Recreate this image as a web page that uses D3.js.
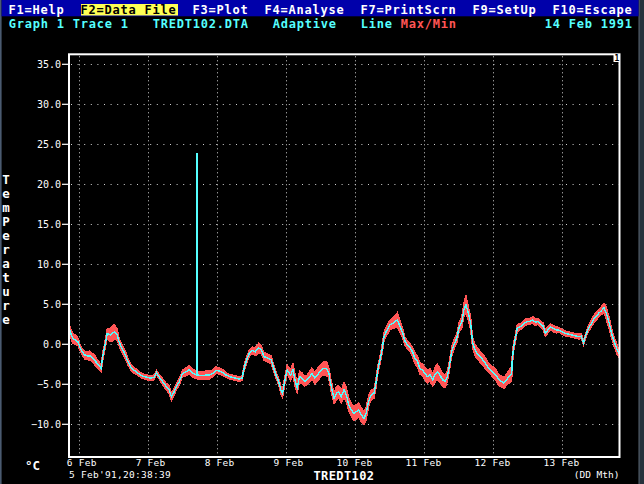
<!DOCTYPE html>
<html><head><meta charset="utf-8">
<script src="https://cdn.jsdelivr.net/npm/d3@7"></script>
<style>
html,body{margin:0;padding:0;background:#000;}
svg{display:block;}
text{font-family:"DejaVu Sans Mono",monospace;}
</style></head>
<body>
<svg id="c" width="644" height="484"></svg>
<script>
// ---- data ----
const startLabel = "5 Feb'91,20:38:39";
// hours since 5 Feb 1991 20:38:39
const hours = [0,0.2,0.6,1.4,2.3,3.1,3.8,4.6,5.5,6.4,7.3,8.1,8.9,9.8,10.8,11.2,11.7,12.2,12.9,13.3,14.3,15.1,15.9,16.8,17.4,18.2,19.1,19.8,20.5,21.5,22.6,23.8,24.9,26.1,27.2,28.4,29.6,30.4,31.3,32.5,33.6,34.8,35.6,36.3,37.2,38.4,39.5,40.7,41.8,43.0,44.55,44.6,44.65,46.5,47.7,48.8,50.0,51.1,52.3,53.5,54.6,55.8,56.9,58.1,59.2,60.2,61.0,61.8,62.7,63.7,64.8,66.0,66.9,67.9,69.1,70.3,71.1,72.0,72.9,73.7,74.3,75.0,75.9,77.1,77.9,78.7,79.4,80.2,81.0,82.0,82.9,83.7,84.5,85.5,86.4,87.2,88.3,89.5,90.3,91.2,92.2,93.0,93.8,94.7,95.7,96.5,97.3,98.2,99.1,99.9,100.8,101.7,102.6,103.4,104.2,105.1,106.1,106.8,107.5,108.2,108.9,109.6,110.3,111.7,112.8,114.2,115.1,116.1,116.9,117.7,118.6,119.5,120.3,121.2,122.1,123.0,123.8,124.6,125.6,126.5,127.3,128.1,129.0,130.0,130.8,131.6,132.3,133.1,133.9,134.9,135.8,136.6,137.4,138.1,138.9,139.7,140.4,141.2,142.0,143.0,143.9,144.8,145.7,146.7,147.6,148.5,149.5,150.4,151.3,152.2,153.1,154.0,154.2,154.7,155.2,155.9,156.6,157.6,158.5,159.4,160.3,161.3,162.2,163.1,164.1,165.0,165.7,166.6,167.5,168.5,169.4,170.3,171.5,172.6,173.8,175.0,176.1,177.3,178.2,179.0,179.6,180.5,181.5,182.4,183.3,184.2,185.1,186.1,187.0,187.9,188.9,189.8,190.7,191.3];
const temps = [32.3,1.8,1.3,0.65,0.5,0.25,-0.4,-1.0,-1.4,-1.5,-1.5,-1.7,-2.0,-2.5,-2.9,-3.1,-1.6,-0.8,0.5,1.3,1.1,1.3,1.5,1.1,0.25,-0.4,-1.0,-1.6,-2.25,-2.9,-3.3,-3.6,-3.9,-4.1,-4.2,-4.3,-4.2,-3.6,-4.1,-4.7,-5.25,-5.75,-6.6,-6.2,-5.5,-4.7,-3.7,-3.5,-3.25,-3.7,-3.9,23.9,-3.9,-4.0,-3.9,-3.9,-3.7,-3.3,-3.4,-3.6,-3.9,-4.1,-4.2,-4.3,-4.4,-4.3,-2.9,-2.0,-1.2,-0.8,-1.0,-0.5,-0.8,-1.6,-1.8,-2.0,-2.9,-3.9,-4.7,-5.75,-6.2,-4.7,-3.25,-3.9,-3.25,-4.7,-5.5,-4.1,-4.3,-4.7,-4.5,-4.1,-3.7,-4.3,-3.9,-3.5,-3.1,-3.1,-3.5,-5.3,-6.8,-6.2,-6.0,-6.6,-5.75,-6.4,-7.6,-8.25,-8.7,-8.5,-8.25,-8.9,-9.3,-8.7,-7.2,-6.4,-6.2,-4.9,-3.1,-2.0,-0.75,0.9,1.5,2.4,2.6,3.0,2.2,1.3,0.3,-0.1,-0.5,-1.0,-1.8,-2.2,-3.1,-3.25,-3.7,-4.1,-3.9,-4.5,-3.9,-3.5,-3.9,-4.5,-4.7,-4.1,-2.8,-1.0,-0.1,0.7,2.2,2.6,4.3,4.9,3.8,2.6,0.1,-0.75,-1.2,-1.6,-2.0,-2.4,-2.9,-3.25,-3.6,-3.9,-4.5,-4.7,-4.9,-4.5,-4.1,-3.7,-2.0,-0.3,0.5,1.9,2.1,2.25,2.6,2.8,2.8,3.0,2.7,2.8,2.4,2.2,1.3,1.75,2.1,1.9,1.75,1.75,1.5,1.3,1.2,1.1,1.0,0.9,0.95,0.1,0.9,1.75,2.4,3.0,3.4,3.8,4.1,4.5,3.7,2.6,1.1,0.1,-0.75,-1.2];
// half-width of the red Max/Min envelope around each sample
const spread = [0,0.5,0.6,0.6,0.6,0.5,0.4,0.4,0.5,0.5,0.6,0.5,0.6,0.5,0.5,0.4,0.5,0.5,0.5,0.6,0.8,1.0,0.9,0.7,0.5,0.5,0.5,0.5,0.4,0.4,0.4,0.3,0.3,0.3,0.3,0.3,0.3,0.3,0.3,0.4,0.4,0.5,0.5,0.5,0.4,0.4,0.4,0.5,0.5,0.5,0.5,0,0.5,0.5,0.5,0.5,0.4,0.4,0.4,0.4,0.3,0.3,0.3,0.3,0.3,0.3,0.4,0.4,0.4,0.4,0.5,0.6,0.5,0.5,0.5,0.5,0.4,0.4,0.4,0.5,0.5,0.5,0.6,0.7,0.8,0.8,0.6,0.7,0.7,0.6,0.6,0.7,0.7,0.7,0.8,0.8,0.8,0.9,0.7,0.7,0.7,0.8,0.8,0.8,0.9,0.9,0.8,0.8,0.9,0.9,0.9,0.9,0.8,0.8,0.7,0.6,0.6,0.6,0.5,0.5,0.5,0.5,0.6,0.6,0.7,0.9,0.7,0.6,0.5,0.5,0.5,0.6,0.7,0.7,0.7,0.7,0.8,0.8,0.8,0.8,0.9,1.0,0.9,0.8,0.8,0.7,0.6,0.6,0.6,0.6,0.6,0.7,0.9,1.1,0.9,0.8,0.7,0.7,0.7,0.7,0.7,0.7,0.6,0.6,0.7,0.7,0.7,0.7,0.7,0.7,0.8,0.9,0.8,0.6,0.5,0.5,0.4,0.4,0.4,0.4,0.4,0.4,0.4,0.4,0.4,0.4,0.4,0.4,0.4,0.4,0.4,0.3,0.3,0.3,0.3,0.3,0.3,0.3,0.3,0.3,0.3,0.4,0.4,0.5,0.5,0.5,0.5,0.6,0.8,0.7,0.6,0.6,0.6,0.5,0.4];
const yTicks = [35,30,25,20,15,10,5,0,-5,-10];
const xTickDays = [6,7,8,9,10,11,12,13];
const xTickLabels = ["6 Feb","7 Feb","8 Feb","9 Feb","10 Feb","11 Feb","12 Feb","13 Feb"];
const yTitle = "TemPerature";

// ---- drawing ----
const svg = d3.select("#c");
const WHITE="#ffffff", CYAN="#55ffff", RED="#ff5555", YEL="#ffff55", BLUE="#0000aa";
const start = new Date(1991,1,5,20,38,39);
const hd = h => new Date(start.getTime()+h*3600e3);
const L=69, R=619.5, T=54.3, B=457;
const x = d3.scaleTime().domain([start, hd(191.5)]).range([L,R]);
const y = d3.scaleLinear().domain([-10,35]).range([423.8,63.8]);

svg.append("rect").attr("width",644).attr("height",484).attr("fill","#000");
// screen borders
svg.append("rect").attr("x",0).attr("y",0).attr("width",1.6).attr("height",484).attr("fill","#4a5a70");
svg.append("rect").attr("x",638.6).attr("y",0).attr("width",5.4).attr("height",484).attr("fill","#26313c");
svg.append("rect").attr("x",638.6).attr("y",0).attr("width",1).attr("height",484).attr("fill","#56616c");

// top menu bar
svg.append("rect").attr("x",1.6).attr("y",0).attr("width",637).attr("height",16.3).attr("fill",BLUE);
svg.append("rect").attr("x",81).attr("y",4).attr("width",97).attr("height",11.5).attr("fill",YEL);
const menu = [["F1=Help",1],["F2=Data File",10],["F3=Plot",24],["F4=Analyse",33],["F7=PrintScrn",45],["F9=SetUp",59],["F10=Escape",69]];
svg.selectAll("text.menu").data(menu).join("text").attr("class","menu")
  .attr("x",d=>d[1]*8+0.5).attr("y",14.3)
  .attr("fill",d=>d[1]===10?"#000":WHITE)
  .attr("font-size",12).attr("font-weight","bold").attr("letter-spacing",0.78)
  .text(d=>d[0]);
const info = [["Graph 1 Trace 1",1,CYAN],["TREDT102.DTA",19,CYAN],["Adaptive",34,CYAN],["Line",45,CYAN],["Max/Min",50,RED],["14 Feb 1991",68,CYAN]];
svg.selectAll("text.info").data(info).join("text").attr("class","info")
  .attr("x",d=>d[1]*8+0.8).attr("y",28.4).attr("fill",d=>d[2])
  .attr("font-size",12).attr("font-weight","bold").attr("letter-spacing",0.78)
  .text(d=>d[0]);

// grid
const grid = svg.append("g");
grid.selectAll("line.hg").data(yTicks).join("line").attr("class","hg")
  .attr("x1",L+2).attr("x2",R).attr("y1",d=>Math.round(y(d))+0.5).attr("y2",d=>Math.round(y(d))+0.5)
  .attr("stroke","#d0d0d0").attr("stroke-width",1).attr("stroke-dasharray","1,5.6");
const dayDates = xTickDays.map(d=>new Date(1991,1,d));
grid.selectAll("line.vg").data(dayDates).join("line").attr("class","vg")
  .attr("x1",d=>Math.round(x(d))+0.5).attr("x2",d=>Math.round(x(d))+0.5).attr("y1",T+2).attr("y2",B)
  .attr("stroke","#d0d0d0").attr("stroke-width",1).attr("stroke-dasharray","1,3");

// data
const data = hours.map((h,i)=>({t:hd(h), v:temps[i], hi:temps[i]+spread[i], lo:temps[i]-spread[i]}));
svg.append("clipPath").attr("id","clip").append("rect").attr("x",L-1.5).attr("y",T).attr("width",R-L+1.5).attr("height",B-T);
const plot = svg.append("g").attr("clip-path","url(#clip)");
plot.append("path").datum(data.filter(d=>d.hi-d.lo>0))
  .attr("d",d3.area().x(d=>x(d.t)).y0(d=>y(d.lo)).y1(d=>y(d.hi)).curve(d3.curveLinear))
  .attr("fill",RED).attr("stroke",RED).attr("stroke-width",1.3).attr("shape-rendering","crispEdges");

// frame
svg.append("rect").attr("x",L).attr("y",T).attr("width",R-L).attr("height",B-T)
  .attr("fill","none").attr("stroke",WHITE).attr("stroke-width",2);

plot.append("path").datum(data)
  .attr("d",d3.line().x(d=>x(d.t)).y(d=>y(d.v)))
  .attr("fill","none").attr("stroke",CYAN).attr("stroke-width",1.4).attr("shape-rendering","crispEdges");

// corner marker
svg.append("rect").attr("x",613.5).attr("y",54).attr("width",6.5).attr("height",8).attr("fill",WHITE);
svg.append("text").attr("x",616.8).attr("y",61).attr("text-anchor","middle").attr("font-size",8).attr("font-weight","bold").attr("fill","#000").text("1");

// y axis
const yAxis = d3.axisLeft(y).tickValues(yTicks).tickFormat(d3.format(".1f")).tickSize(6).tickPadding(1);
const ga = svg.append("g").attr("transform",`translate(${L-1},0)`).call(yAxis);
ga.select(".domain").remove();
ga.selectAll(".tick line").attr("stroke",WHITE).attr("stroke-width",1.2);
ga.selectAll(".tick text").attr("fill",WHITE).attr("font-size",10).attr("font-family","DejaVu Sans Mono");

// y title (stacked letters)
svg.selectAll("text.yt").data(yTitle.split("")).join("text").attr("class","yt")
  .attr("x",6).attr("y",(d,i)=>184+14*i).attr("text-anchor","middle")
  .attr("fill",WHITE).attr("font-size",12.5).attr("font-weight","bold").text(d=>d);

// x tick labels
svg.selectAll("text.xl").data(xTickLabels).join("text").attr("class","xl")
  .attr("x",(d,i)=>x(dayDates[i])+18).attr("y",466.2).attr("text-anchor","end")
  .attr("fill",WHITE).attr("font-size",9.5).attr("letter-spacing",0.28).text(d=>d);

svg.append("text").attr("x",69).attr("y",477.6).attr("fill",WHITE).attr("font-size",9.5).attr("letter-spacing",0.28).text(startLabel);
svg.append("text").attr("x",619.5).attr("y",477.6).attr("text-anchor","end").attr("fill",WHITE).attr("font-size",9.5).text("(DD Mth)");
svg.append("text").attr("x",344).attr("y",480).attr("text-anchor","middle").attr("fill",WHITE)
  .attr("font-size",12).attr("font-weight","bold").attr("letter-spacing",0.4).text("TREDT102");
svg.append("text").attr("x",25).attr("y",470).attr("fill",WHITE).attr("font-size",12.5).attr("font-weight","bold").text("°C");
</script>
</body></html>
